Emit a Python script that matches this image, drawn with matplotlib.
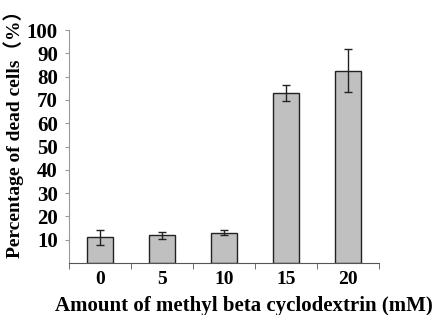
import numpy as np
import matplotlib.pyplot as plt

concentrations = ["0", "5", "10", "15", "20"]
dead_pct = [11.0, 12.0, 13.0, 73.0, 82.5]
dead_err = [3.3, 1.5, 1.0, 3.3, 9.3]

plt.rcParams['font.family'] = ['Liberation Serif', 'Noto Sans CJK SC', 'DejaVu Serif']
plt.rcParams['font.weight'] = 'bold'

fig = plt.figure(figsize=(4.33, 3.15), dpi=100)
ax = fig.add_axes([69 / 433, 52 / 315, 310 / 433, 233 / 315])

x = np.arange(len(concentrations))
ax.bar(x, dead_pct, width=0.42, color='#c0c0c0', edgecolor='#222222', linewidth=1.0,
       yerr=dead_err, capsize=3,
       error_kw=dict(ecolor='#222222', elinewidth=1.0, capthick=1.0))

ax.set_xlim(-0.5, len(concentrations) - 0.5)
ax.set_ylim(0, 100)
ax.set_yticks(np.arange(10, 101, 10))
ax.set_xticks(x)
ax.set_xticklabels(concentrations)
ax.set_xticks(np.arange(-0.5, len(concentrations), 1), minor=True)
ax.tick_params(axis='x', which='major', length=0, pad=6, labelsize=14)
ax.tick_params(axis='x', which='minor', length=4, direction='out', color='#555555')
ax.tick_params(axis='y', length=3, color='#999999', labelsize=15, pad=5)

for side in ['top', 'right']:
    ax.spines[side].set_visible(False)
ax.spines['left'].set_color('#999999')
ax.spines['bottom'].set_color('#555555')

ax.set_xlabel("Amount of methyl beta cyclodextrin (mM)", fontsize=15, fontweight='bold')
ax.xaxis.set_label_coords(0.564, -0.14)
ax.set_ylabel("Percentage of dead cells（%）", fontsize=14, fontweight='bold',
              family=['Liberation Serif', 'Noto Sans CJK SC'])
ax.yaxis.set_label_coords(-0.145, 0.575)

fig.savefig("out.png", dpi=100)
